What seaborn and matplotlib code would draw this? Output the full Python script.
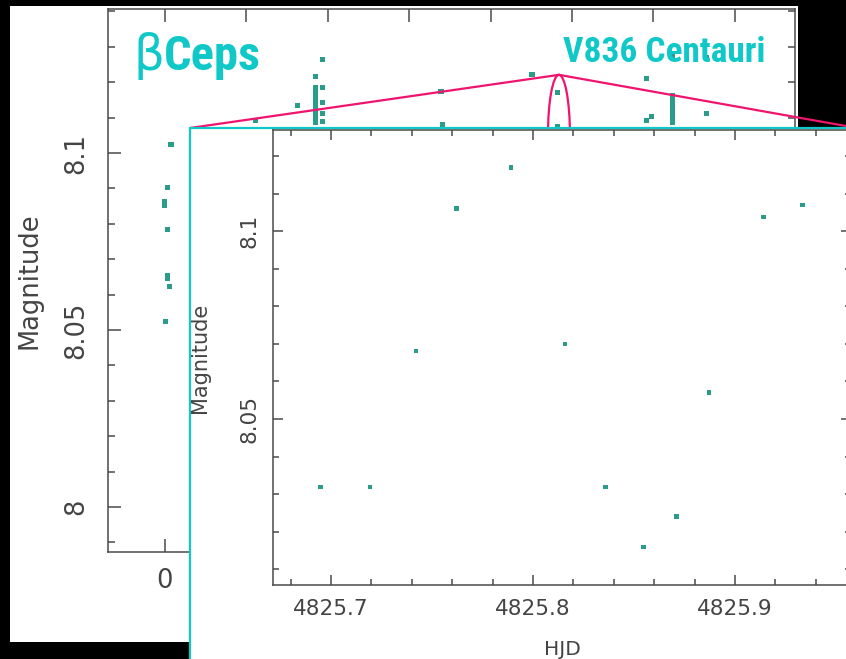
import numpy as np
import pandas as pd
import matplotlib
matplotlib.use("Agg")
import matplotlib.pyplot as plt
import seaborn as sns
from matplotlib import font_manager
from matplotlib.patches import Rectangle, Ellipse
from matplotlib.lines import Line2D
from matplotlib.ticker import MultipleLocator

# ---- full light curve (days since start of run) ----
bg_day = [0.074, 0.037, 0.0, 0.0, 0.037, 0.037, 0.025, 0.061, 0.012,
          1.118, 1.622,
          1.855, 1.855, 1.855, 1.855, 1.855, 1.855, 1.855, 1.855, 1.855, 1.855, 1.855,
          1.941, 1.941, 1.941, 1.941, 1.941,
          3.391, 3.415, 4.509, 4.828, 4.828,
          5.921, 5.921, 5.971,
          6.241, 6.241, 6.241, 6.241, 6.241, 6.241, 6.241, 6.241, 6.241,
          6.658, 6.658]
bg_mag = [8.1023, 8.0904, 8.0862, 8.0853, 8.0785, 8.0655, 8.0647, 8.0624, 8.0523,
          8.1093, 8.1133,
          8.1215, 8.1184, 8.1172, 8.1164, 8.1150, 8.1136, 8.1127, 8.1116, 8.1107, 8.1093, 8.1085,
          8.1263, 8.1184, 8.1144, 8.1113, 8.1088,
          8.1175, 8.1082, 8.1223, 8.1172, 8.1076,
          8.1212, 8.1093, 8.1102,
          8.1277, 8.1164, 8.1155, 8.1144, 8.1130, 8.1116, 8.1102, 8.1093, 8.1085,
          8.1271, 8.1113]

# ---- single night of V836 Cen ----
hjd = [4825.6949, 4825.7193, 4825.7421, 4825.7622, 4825.7891, 4825.8158,
       4825.8358, 4825.8548, 4825.8709, 4825.8871, 4825.9140, 4825.9335]
mag = [8.0319, 8.0319, 8.0681, 8.1060, 8.1169, 8.0700,
       8.0319, 8.0160, 8.0240, 8.0571, 8.1038, 8.1069]

bg_xticks = [0, 1, 2, 3, 4, 5, 6, 7]
bg_yticks = [8.0, 8.05, 8.1]
bg_yticklabels = ["8", "8.05", "8.1"]
in_xticks = [4825.7, 4825.8, 4825.9]
in_yticks = [8.05, 8.1]

W, H = 846, 659
CYAN = "#10c8c8"
PINK = "#f0146e"
DOT = "#2b9c8a"
GREY = "#444444"

sns.set_theme(style="ticks")
plt.rcParams["font.family"] = ["DejaVu Sans"]

# a condensed face for the headline labels
names = sorted({f.name for f in font_manager.fontManager.ttflist})
narrow_pref = ["Liberation Sans Narrow", "Roboto Condensed", "Open Sans Condensed",
               "Noto Sans Condensed", "DejaVu Sans Condensed"]
narrow = next((n for n in narrow_pref if n in names), None)
if narrow is None:
    narrow = next((n for n in names if ("Condensed" in n or "Narrow" in n)
                   and "Light" not in n and "Black" not in n), None)
stretch_kw = {}
if narrow is None:
    narrow = "DejaVu Sans"
    stretch_kw = {"fontstretch": "condensed"}


def fx(px):
    return px / W


def fy(py):
    return 1 - py / H


fig = plt.figure(figsize=(W / 100, H / 100), dpi=100, facecolor="black")

# white sheet behind the overview plot
fig.add_artist(Rectangle((fx(10), fy(642)), (798 - 10) / W, (642 - 6) / H,
                         transform=fig.transFigure, facecolor="white",
                         edgecolor="none", zorder=-1))


def style_axes(ax, major, minor, lw):
    for s in ax.spines.values():
        s.set_visible(True)
        s.set_color("#4a4a4a")
        s.set_linewidth(lw)
    ax.tick_params(which="both", direction="in", top=True, right=True,
                   color="#4a4a4a", width=lw, labelcolor=GREY)
    ax.tick_params(which="major", length=major)
    ax.tick_params(which="minor", length=minor)
    ax.set_facecolor("white")


# ---- overview axes ----
ax_bg = fig.add_axes([fx(108), fy(552), (795 - 108) / W, (552 - 9) / H], zorder=0)
bg_df = pd.DataFrame({"day": bg_day, "mag": bg_mag})
sns.scatterplot(data=bg_df, x="day", y="mag", ax=ax_bg, marker="s", s=13,
                color=DOT, edgecolor="none", linewidth=0, legend=False)
ax_bg.set_xlim(-0.70, 7.74)
ax_bg.set_ylim(7.9873, 8.1407)
ax_bg.set_xticks(bg_xticks)
ax_bg.set_yticks(bg_yticks)
ax_bg.set_yticklabels(bg_yticklabels)
ax_bg.yaxis.set_minor_locator(MultipleLocator(0.01))
style_axes(ax_bg, 9.4, 5.0, 1.1)
ax_bg.tick_params(axis="y", which="both", labelrotation=90, labelsize=18.5, pad=13.7)
ax_bg.tick_params(axis="x", which="both", labelsize=18.5, pad=11.5)
ax_bg.set_xlabel("")
ax_bg.set_ylabel("Magnitude", fontsize=18.5, color=GREY, labelpad=15)
for t in ax_bg.get_yticklabels():
    t.set_va("center")

# zoom window on the overview
zc_day, zc_mag, zw, zh = 4.84, 8.1051, 0.27, 0.034
ax_bg.add_patch(Ellipse((zc_day, zc_mag), zw, zh, facecolor="none",
                        edgecolor=PINK, linewidth=1.6, zorder=3))
apex = ax_bg.transData.transform((zc_day, zc_mag + zh / 2))
apex_fig = fig.transFigure.inverted().transform(apex)

# ---- inset panel ----
fig.add_artist(Rectangle((fx(190), fy(700)), (900 - 190) / W, (700 - 128) / H,
                         transform=fig.transFigure, facecolor="white",
                         edgecolor="none", zorder=0.5))
fig.add_artist(Line2D([fx(190), fx(190)], [fy(128), fy(700)], transform=fig.transFigure,
                      color=CYAN, linewidth=1.6, zorder=0.6))
fig.add_artist(Line2D([fx(190), fx(900)], [fy(128), fy(128)], transform=fig.transFigure,
                      color=CYAN, linewidth=1.6, zorder=0.6))
# connectors from the zoom window to the inset corners
for cx in (190, 857):
    fig.add_artist(Line2D([apex_fig[0], fx(cx)], [apex_fig[1], fy(128)],
                          transform=fig.transFigure, color=PINK, linewidth=1.6,
                          zorder=0.55))

ax_in = fig.add_axes([fx(273), fy(585), (851 - 273) / W, (585 - 130) / H], zorder=1)
in_df = pd.DataFrame({"HJD": hjd, "mag": mag})
sns.scatterplot(data=in_df, x="HJD", y="mag", ax=ax_in, marker="s", s=11,
                color=DOT, edgecolor="none", linewidth=0, legend=False)
ax_in.set_xlim(4825.6713, 4825.9574)
ax_in.set_ylim(8.00585, 8.1269)
ax_in.set_xticks(in_xticks)
ax_in.set_xticklabels([f"{v:.1f}" for v in in_xticks])
ax_in.set_yticks(in_yticks)
ax_in.set_yticklabels(["8.05", "8.1"])
ax_in.xaxis.set_minor_locator(MultipleLocator(0.02))
ax_in.yaxis.set_minor_locator(MultipleLocator(0.01))
style_axes(ax_in, 7.2, 4.3, 1.1)
ax_in.tick_params(axis="y", which="both", labelrotation=90, labelsize=15.5, pad=10)
ax_in.tick_params(axis="x", which="both", labelsize=15.5, pad=10)
for t in ax_in.get_yticklabels():
    t.set_va("center")
ax_in.set_xlabel("HJD", fontsize=14.5, color=GREY, labelpad=15)
ax_in.set_ylabel("Magnitude", fontsize=15, color=GREY, labelpad=21)

# ---- titles ----
fig.text(fx(133), fy(70), "β", fontsize=35, color=CYAN,
         family=["DejaVu Sans"], ha="left", va="baseline", zorder=5)
fig.text(fx(164), fy(70), "Ceps", fontsize=35, fontweight="bold", color=CYAN,
         family=[narrow, "DejaVu Sans"], ha="left", va="baseline", zorder=5, **stretch_kw)
fig.text(fx(563), fy(62), "V836 Centauri", fontsize=25.5, fontweight="bold", color=CYAN,
         family=[narrow, "DejaVu Sans"], ha="left", va="baseline", zorder=5, **stretch_kw)

fig.savefig("out.png", dpi=100, facecolor="black")
